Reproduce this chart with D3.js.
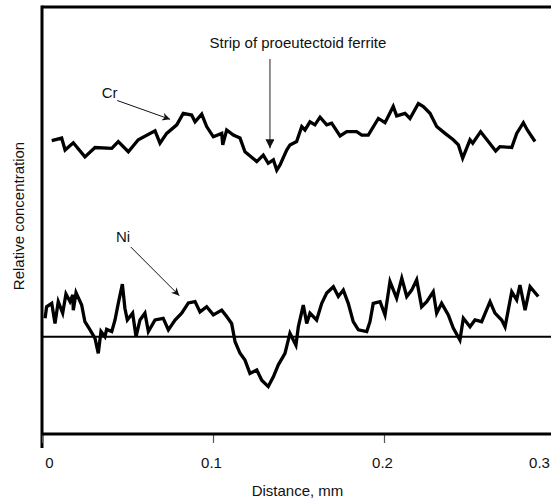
<!DOCTYPE html>
<html lang="en">
<head>
<meta charset="utf-8">
<script src="https://d3js.org/d3.v7.min.js"></script>
<style>
  body { margin: 0; background: #fff; }
  text { font-family: "Liberation Sans", Arial, sans-serif; fill: #111; }
</style>
</head>
<body>
<script>
// distance (mm) and relative concentration (arbitrary units, 0-100 frame)
var crX = [0.0057,0.0115,0.0135,0.0183,0.0251,0.0310,0.0408,0.0446,0.0505,0.0563,0.0661,0.0690,0.0729,0.0788,0.0826,0.0875,0.0895,0.0934,0.0963,0.1002,0.1051,0.1057,0.1080,0.1119,0.1158,0.1187,0.1256,0.1294,0.1323,0.1353,0.1373,0.1392,0.1431,0.1450,0.1489,0.1519,0.1538,0.1567,0.1596,0.1626,0.1665,0.1694,0.1743,0.1782,0.1840,0.1870,0.1908,0.1967,0.2006,0.2054,0.2074,0.2123,0.2152,0.2201,0.2230,0.2269,0.2308,0.2357,0.2405,0.2435,0.2460,0.2503,0.2519,0.2565,0.2610,0.2653,0.2678,0.2747,0.2776,0.2815,0.2838,0.2883];
var crY = [68.7,69.3,66.5,68.2,64.9,67.1,66.9,68.5,66.1,68.9,71.0,68.1,70.4,72.4,75.1,74.7,73.1,74.9,72.0,69.6,70.4,67.7,71.2,70.0,69.3,66.1,63.8,65.3,63.4,64.2,61.8,63.0,66.5,67.7,68.5,72.0,71.2,73.1,72.4,74.2,72.4,72.8,69.8,70.8,70.8,70.0,70.0,73.9,72.9,76.7,74.5,75.1,73.9,77.4,76.7,75.1,72.0,70.4,68.9,67.7,64.6,68.9,68.1,70.8,68.5,66.3,67.3,67.1,70.4,72.9,71.2,68.5];

var niX = [0.0018,0.0027,0.0057,0.0076,0.0095,0.0121,0.0140,0.0164,0.0180,0.0183,0.0199,0.0232,0.0251,0.0281,0.0310,0.0329,0.0345,0.0368,0.0378,0.0408,0.0427,0.0446,0.0470,0.0485,0.0499,0.0530,0.0550,0.0573,0.0602,0.0622,0.0661,0.0709,0.0739,0.0778,0.0817,0.0856,0.0895,0.0924,0.0963,0.1002,0.1051,0.1080,0.1109,0.1129,0.1158,0.1187,0.1216,0.1256,0.1285,0.1323,0.1353,0.1382,0.1421,0.1450,0.1485,0.1499,0.1528,0.1548,0.1567,0.1606,0.1636,0.1665,0.1704,0.1733,0.1762,0.1791,0.1820,0.1850,0.1899,0.1918,0.1937,0.1977,0.2006,0.2035,0.2074,0.2104,0.2133,0.2162,0.2191,0.2220,0.2250,0.2288,0.2308,0.2337,0.2376,0.2405,0.2444,0.2464,0.2503,0.2532,0.2571,0.2620,0.2649,0.2688,0.2708,0.2747,0.2776,0.2795,0.2825,0.2854,0.2902];
var niY = [27.1,29.8,30.6,25.9,31.0,28.3,32.8,31.0,32.6,29.0,33.1,30.2,26.3,24.4,22.4,18.9,24.0,22.8,24.5,24.0,26.7,30.6,35.1,29.4,26.7,28.3,22.8,26.7,28.3,24.0,26.7,27.1,24.4,26.7,28.3,30.7,31.0,28.6,29.8,27.9,29.0,27.5,25.9,21.6,18.9,17.3,14.2,15.0,12.6,11.1,13.4,16.2,18.9,23.6,20.8,25.1,30.2,25.9,28.3,26.7,30.6,33.0,34.5,32.2,33.7,30.6,26.3,24.4,24.0,26.3,30.6,31.0,27.9,35.7,31.8,36.5,32.2,33.7,36.1,29.8,31.0,33.3,28.3,30.6,27.9,24.8,22.0,27.1,25.1,26.7,26.3,31.0,28.3,26.7,25.1,33.3,31.4,34.9,29.0,34.5,32.2];

var niBaseline = 22.8;
var xTicks = [0, 0.1, 0.2, 0.3];
var xTickLabels = ["0", "0.1", "0.2", "0.3"];

var width = 551, height = 499;
var x = d3.scaleLinear().domain([0, 0.3]).range([42, 555]);
var y = d3.scaleLinear().domain([0, 100]).range([434, 7]);

var svg = d3.select("body").append("svg")
    .attr("width", width)
    .attr("height", height);

var defs = svg.append("defs");
defs.append("marker")
    .attr("id", "thin")
    .attr("viewBox", "0 0 10 10")
    .attr("refX", 10).attr("refY", 5)
    .attr("markerWidth", 10).attr("markerHeight", 8)
    .attr("markerUnits", "userSpaceOnUse")
    .attr("orient", "auto")
    .append("path").attr("d", "M0,0 L10,5 L0,10 L3,5 Z").attr("fill", "#111");
defs.append("marker")
    .attr("id", "solid")
    .attr("viewBox", "0 0 10 10")
    .attr("refX", 10).attr("refY", 5)
    .attr("markerWidth", 11).attr("markerHeight", 9)
    .attr("markerUnits", "userSpaceOnUse")
    .attr("orient", "auto")
    .append("path").attr("d", "M0,0 L10,5 L0,10 Z").attr("fill", "#111");

// frame: top and left edges
svg.append("line")
    .attr("x1", x(0)).attr("x2", width + 5)
    .attr("y1", y(100)).attr("y2", y(100))
    .attr("stroke", "#000").attr("stroke-width", 3);
svg.append("line")
    .attr("x1", x(0)).attr("x2", x(0))
    .attr("y1", y(100) - 1.5).attr("y2", y(0) + 14)
    .attr("stroke", "#000").attr("stroke-width", 3);

// x axis
var xAxis = svg.append("g")
    .attr("transform", "translate(0," + y(0) + ")")
    .call(d3.axisBottom(x).tickValues(xTicks).tickSize(9)
        .tickFormat(function(d, i) { return xTickLabels[i]; }));
xAxis.select(".domain").remove();
xAxis.selectAll(".tick line").attr("stroke", "#555").attr("stroke-width", 1.2);
xAxis.selectAll(".tick text")
    .attr("font-size", 15)
    .attr("y", 34)
    .attr("dy", 0)
    .attr("x", function(d) { return d === 0 ? 7 : (d === 0.3 ? -16 : -2); })
    .style("font-family", "'Liberation Sans', Arial, sans-serif");
svg.append("line")
    .attr("x1", x(0)).attr("x2", width + 5)
    .attr("y1", y(0)).attr("y2", y(0))
    .attr("stroke", "#000").attr("stroke-width", 3);

// baseline for Ni
svg.append("line")
    .attr("x1", x(0)).attr("x2", width + 5)
    .attr("y1", y(niBaseline)).attr("y2", y(niBaseline))
    .attr("stroke", "#000").attr("stroke-width", 2);

var line = d3.line()
    .x(function(d) { return x(d[0]); })
    .y(function(d) { return y(d[1]); });

svg.append("path")
    .datum(d3.zip(crX, crY))
    .attr("d", line)
    .attr("fill", "none")
    .attr("stroke", "#000")
    .attr("stroke-width", 3.3)
    .attr("stroke-linejoin", "miter");

svg.append("path")
    .datum(d3.zip(niX, niY))
    .attr("d", line)
    .attr("fill", "none")
    .attr("stroke", "#000")
    .attr("stroke-width", 3.3)
    .attr("stroke-linejoin", "miter");

// annotations
svg.append("text").attr("x", x(0.1497)).attr("y", y(90.3))
    .attr("text-anchor", "middle").attr("font-size", 15)
    .text("Strip of proeutectoid ferrite");
svg.append("line")
    .attr("x1", x(0.1333)).attr("x2", x(0.1333))
    .attr("y1", y(87.8)).attr("y2", y(66.9))
    .attr("stroke", "#555").attr("stroke-width", 1.3)
    .attr("marker-end", "url(#solid)");

svg.append("text").attr("x", x(0.0349)).attr("y", y(78.7))
    .attr("font-size", 15).text("Cr");
svg.append("line")
    .attr("x1", x(0.0440)).attr("y1", y(78.1))
    .attr("x2", x(0.0749)).attr("y2", y(73.7))
    .attr("stroke", "#111").attr("stroke-width", 1)
    .attr("marker-end", "url(#thin)");

svg.append("text").attr("x", x(0.0433)).attr("y", y(45.0))
    .attr("font-size", 15).text("Ni");
svg.append("line")
    .attr("x1", x(0.0519)).attr("y1", y(43.8))
    .attr("x2", x(0.0803)).attr("y2", y(32.4))
    .attr("stroke", "#111").attr("stroke-width", 1)
    .attr("marker-end", "url(#thin)");

// axis titles
svg.append("text")
    .attr("x", (x(0) + width) / 2 + 1).attr("y", 496)
    .attr("text-anchor", "middle").attr("font-size", 15)
    .text("Distance, mm");
svg.append("text")
    .attr("transform", "translate(24," + 216 + ") rotate(-90)")
    .attr("text-anchor", "middle").attr("font-size", 15)
    .text("Relative concentration");
</script>
</body>
</html>
